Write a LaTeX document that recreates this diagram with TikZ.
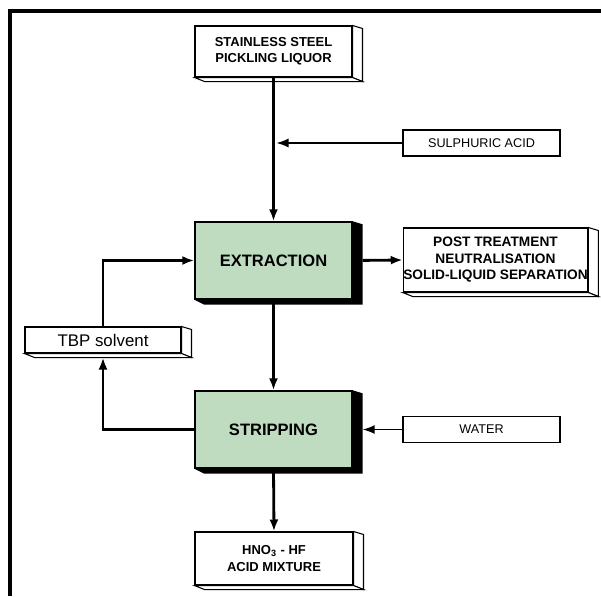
\documentclass[tikz,border=0pt]{standalone}
\usepackage{fontspec}
\setmainfont{Liberation Sans}
\usepackage{tikz}
\usetikzlibrary{arrows.meta,calc}

\begin{document}
\begin{tikzpicture}[x=0.02cm, y=-0.02cm,
    whitebox/.style={rectangle, draw, line width=0.6pt, fill=white, inner sep=0pt, align=center, font=\fontsize{7.4}{9.3}\selectfont\bfseries},
    feedbox/.style={rectangle, draw, line width=0.6pt, fill=white, minimum width=3.14cm, minimum height=0.52cm, inner sep=0pt, font=\fontsize{7.2}{9}\selectfont},
    unit/.style={rectangle, draw, line width=0.8pt, fill={rgb,255:red,192;green,220;blue,192}, minimum width=3.14cm, minimum height=1.54cm, inner sep=0pt, font=\fontsize{9.4}{11}\selectfont\bfseries},
    face/.style={draw, line width=0.6pt, fill=white},
    flow/.style={-{Latex[length=2.4mm, width=1.8mm]}, line width=1.6pt},
    feed/.style={-{Latex[length=2.4mm, width=1.8mm]}, line width=0.8pt}
]
\useasboundingbox (0,0) rectangle (601,596);
% frame
\draw[line width=2pt] (601,11) -- (10,11) -- (10,596);

\node[whitebox, minimum width=3.14cm, minimum height=1.02cm] (liquor) at (273.5,51.5) {STAINLESS STEEL\\PICKLING LIQUOR};
\node[feedbox] (acid) at (481.5,143) {SULPHURIC ACID};
\node[unit] (extraction) at (273.5,260.5) {EXTRACTION};
\node[whitebox, minimum width=3.66cm, minimum height=1.28cm, font=\fontsize{7.8}{9.4}\selectfont\bfseries] (post) at (495.5,260) {POST TREATMENT\\NEUTRALISATION\\SOLID-LIQUID SEPARATION};
\node[feedbox, minimum width=3.12cm, font=\fontsize{9.6}{11}\selectfont] (tbp) at (103,340) {TBP solvent};
\node[unit] (stripping) at (273.5,429.5) {STRIPPING};
\node[feedbox] (water) at (481.5,429.5) {WATER};
\node[whitebox, minimum width=3.16cm, minimum height=1.06cm] (mixture) at (274,558.5) {HNO\textsubscript{3} - HF\\ACID MIXTURE};

% 3d edges
\foreach \n in {liquor,post,tbp,mixture}{
  \draw[face] (\n.north east) -- ++(10,3) -- ($(\n.south east)+(10,4)$) -- (\n.south east) -- cycle;
  \draw[face] (\n.south west) -- ++(10,4) -- ($(\n.south east)+(10,4)$) -- (\n.south east) -- cycle;
}
\foreach \n in {extraction,stripping}
  \fill (\n.north east) -- ++(10,3) -- ($(\n.south east)+(10,5)$) -- ($(\n.south west)+(10,5)$) -- (\n.south west) -- (\n.south east) -- cycle;

\draw[flow] (liquor.south) -- (extraction.north);
\draw[feed] (acid.west) -- ($(acid.west -| liquor.south)+(3,0)$);
\draw[flow, shorten <=0.2cm] (extraction.east) -- (post.west);
\draw[flow] (extraction.south) -- (stripping.north);
\draw[feed] (water.west) -- ($(stripping.east)+(10,0)$);
\draw[flow] (stripping.south) -- (mixture.north);
\draw[flow] (stripping.west) -| ($(tbp.south)+(0,4)$);
\draw[flow] (tbp.north) |- (extraction.west);
\end{tikzpicture}
\end{document}
